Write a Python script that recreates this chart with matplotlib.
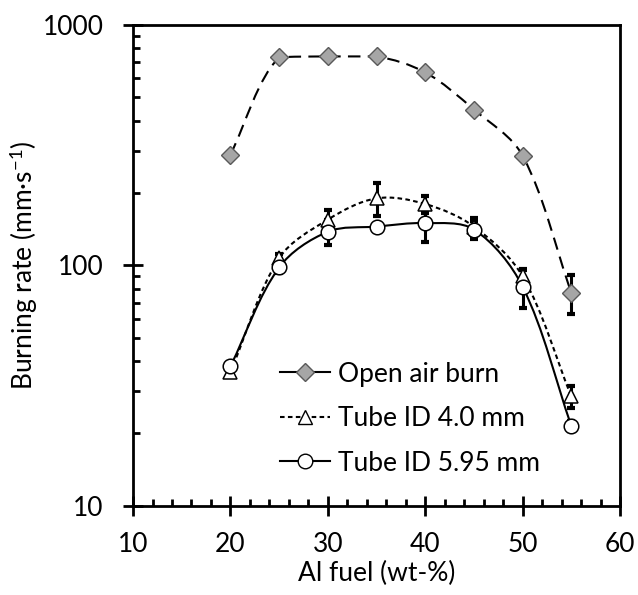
import numpy as np
import matplotlib
matplotlib.use("Agg")
import matplotlib.pyplot as plt
from matplotlib.path import Path
from matplotlib.patches import PathPatch
from matplotlib.lines import Line2D
from matplotlib.ticker import MultipleLocator, LogLocator, NullFormatter, FixedLocator

# data
al_fuel = [20, 25, 30, 35, 40, 45, 50, 55]
open_air = [289, 733, 740, 740, 635, 445, 286, 77]
open_air_err = [0, 0, 0, 0, 0, 0, 0, 14]
tube_40 = [36, 107, 155, 190, 180, 145, 90, 28.5]
tube_40_err = [1, 5, 15, 30, 15, 12, 6, 3]
tube_595 = [38, 98, 138, 145, 150, 141, 81.5, 21.5]
tube_595_err = [1, 5, 17, 3, 25, 12, 15, 1]

labels = ["Open air burn", "Tube ID 4.0 mm", "Tube ID 5.95 mm"]

plt.rcParams["font.family"] = ["Lato", "DejaVu Sans"]
plt.rcParams["mathtext.fontset"] = "custom"
plt.rcParams["mathtext.rm"] = "Lato"
plt.rcParams["mathtext.it"] = "Lato:italic"

FS = 19


def smooth_path(x, y, sx=9.74, sy=240.0, f=1 / 6, clamp=False):
    """Excel-like smoothed bezier: chord-scaled Catmull-Rom in screen-like space
    (x linear, y in log space). clamp keeps each segment from overshooting."""
    X = np.asarray(x, float) * sx
    Y = np.log10(np.asarray(y, float)) * sy
    P = np.column_stack([X, Y])
    Pe = np.vstack([P[0], P, P[-1]])
    verts = [P[0]]
    for i in range(1, len(Pe) - 2):
        p0, p1, p2, p3 = Pe[i - 1], Pe[i], Pe[i + 1], Pe[i + 2]
        d01 = np.hypot(*(p1 - p0))
        d12 = np.hypot(*(p2 - p1))
        d23 = np.hypot(*(p3 - p2))
        c1 = p1 + (p2 - p0) * 2 * f * d12 / (d01 + d12)
        c2 = p2 - (p3 - p1) * 2 * f * d12 / (d12 + d23)
        if clamp:
            lo, hi = min(p1[1], p2[1]), max(p1[1], p2[1])
            c1[1] = np.clip(c1[1], lo, hi)
            c2[1] = np.clip(c2[1], lo, hi)
        verts += [c1, c2, p2]
    V = np.array(verts)
    V = np.column_stack([V[:, 0] / sx, 10 ** (V[:, 1] / sy)])
    codes = [Path.MOVETO] + [Path.CURVE4] * (len(V) - 1)
    return Path(V, codes)


fig = plt.figure(figsize=(6.38, 5.95), dpi=100, facecolor="white")
ax = fig.add_axes([0.2085, 0.150, 0.7633, 0.808])

ax.set_yscale("log")
ax.set_xlim(10, 60)
ax.set_ylim(10, 1000)

# smoothed connecting lines
ax.add_patch(PathPatch(smooth_path(al_fuel, open_air, clamp=True), fill=False,
                       edgecolor="black", lw=1.5, linestyle=(0, (6, 3.5)), zorder=2))
ax.add_patch(PathPatch(smooth_path(al_fuel, tube_40), fill=False, edgecolor="black",
                       lw=1.5, linestyle=(0, (2.2, 1.6)), zorder=2))
ax.add_patch(PathPatch(smooth_path(al_fuel, tube_595), fill=False, edgecolor="black",
                       lw=1.5, linestyle="-", zorder=2))

# error bars (only where visible)
for vals, errs in [(open_air, open_air_err), (tube_40, tube_40_err), (tube_595, tube_595_err)]:
    xs = [a for a, e in zip(al_fuel, errs) if e > 0]
    ys = [v for v, e in zip(vals, errs) if e > 0]
    es = [e for e in errs if e > 0]
    ax.errorbar(xs, ys, yerr=es, fmt="none", ecolor="black", elinewidth=2.2,
                capsize=3, capthick=3, zorder=3)

# markers
ax.plot(al_fuel, open_air, linestyle="none", marker="D", ms=9, mfc="#a6a6a6",
        mec="#595959", mew=1, zorder=4)
ax.plot(al_fuel, tube_40, linestyle="none", marker="^", ms=10, mfc="white",
        mec="black", mew=1.1, zorder=4)
ax.plot(al_fuel, tube_595, linestyle="none", marker="o", ms=10.5, mfc="white",
        mec="black", mew=1.1, zorder=5)

# axes styling
for s in ax.spines.values():
    s.set_linewidth(2)

ax.xaxis.set_major_locator(MultipleLocator(10))
ax.xaxis.set_minor_locator(MultipleLocator(2))
ax.yaxis.set_major_locator(FixedLocator([10, 100, 1000]))
ax.yaxis.set_minor_locator(LogLocator(base=10, subs=np.arange(2, 10)))
ax.yaxis.set_minor_formatter(NullFormatter())
ax.set_yticklabels(["10", "100", "1000"])

ax.tick_params(which="major", direction="inout", length=14, width=2, labelsize=FS)
ax.tick_params(which="minor", direction="in", length=5, width=2)
ax.tick_params(axis="x", which="major", pad=12)
ax.tick_params(axis="y", which="major", pad=14)

ax.set_xlabel("Al fuel (wt-%)", fontsize=FS, labelpad=3)
ax.set_ylabel("Burning rate (mm·s$^{\\mathrm{-1}}$)", fontsize=FS, labelpad=2)

# legend
handles = [
    Line2D([], [], color="black", lw=1.5, marker="D", ms=9, mfc="#a6a6a6", mec="#595959"),
    Line2D([], [], color="black", lw=1.5, linestyle=(0, (2.2, 1.6)), marker="^", ms=10,
           mfc="white", mec="black"),
    Line2D([], [], color="black", lw=1.5, marker="o", ms=10.5, mfc="white", mec="black"),
]
ax.legend(handles, labels, loc="upper left", bbox_to_anchor=(0.302, 0.30), frameon=False,
          fontsize=FS, handlelength=1.9, handletextpad=0.3, labelspacing=0.74,
          borderpad=0, borderaxespad=0)

fig.savefig("out.png", dpi=100, facecolor="white")
